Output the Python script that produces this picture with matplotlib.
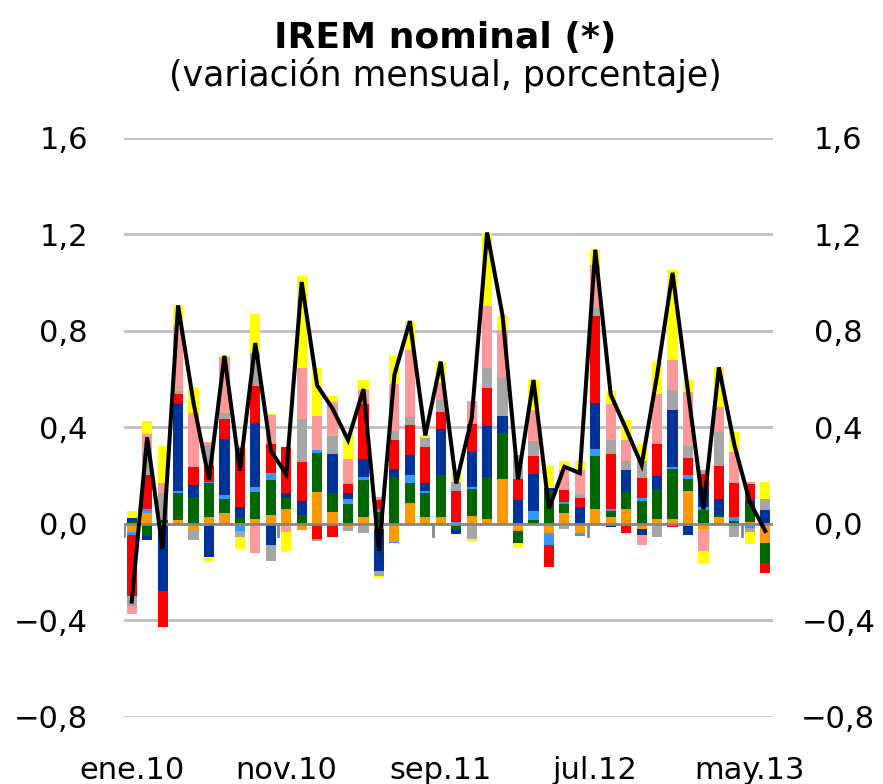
"""
IREM nominal: contribuciones mensuales apiladas y total
"""
import numpy as np
import matplotlib.pyplot as plt
import matplotlib

matplotlib.rcParams['font.family'] = ['DejaVu Sans']
matplotlib.rcParams['axes.unicode_minus'] = True

# meses: ene.10 .. jun.13
meses = ['ene', 'feb', 'mar', 'abr', 'may', 'jun', 'jul', 'ago', 'sep', 'oct', 'nov', 'dic']
periodos = [f'{meses[i % 12]}.{10 + i // 12}' for i in range(42)]
etiquetas_x = ['ene.10', 'nov.10', 'sep.11', 'jul.12', 'may.13']

# contribuciones por componente (puntos porcentuales)
naranja = [-0.035, 0.046, 0.000, 0.015, -0.024, 0.028, 0.044, -0.005, 0.019, 0.037,
           0.061, -0.025, 0.134, 0.051, -0.018, 0.028, -0.020, -0.073, 0.086, 0.028,
           0.028, 0.000, 0.035, 0.019, 0.185, -0.030, 0.000, -0.039, 0.044, -0.036,
           0.061, 0.028, 0.061, -0.022, 0.019, 0.019, 0.137, -0.022, 0.030, 0.000,
           0.007, -0.080]
verde = [0.010, -0.050, 0.018, 0.112, 0.112, 0.141, 0.058, 0.028, 0.115, 0.145,
         0.048, 0.037, 0.159, 0.076, 0.083, 0.155, 0.051, 0.194, 0.083, 0.100,
         0.174, -0.025, 0.109, 0.174, 0.191, -0.050, 0.017, 0.138, 0.039, 0.000,
         0.221, 0.024, 0.073, 0.097, 0.124, 0.207, 0.048, 0.058, 0.007, 0.012,
         0.076, -0.083]
azul_claro = [-0.010, 0.018, 0.000, 0.011, 0.000, 0.007, 0.018, -0.025, 0.018, 0.028,
              0.000, 0.000, 0.014, 0.000, 0.019, 0.011, 0.010, -0.007, 0.035, 0.010,
              0.000, 0.008, 0.008, 0.000, 0.000, 0.000, 0.035, -0.048, 0.010, -0.012,
              0.028, 0.010, 0.000, 0.010, 0.000, 0.011, 0.018, 0.014, 0.000, 0.018,
              -0.018, 0.000]
azul = [0.014, -0.017, -0.277, 0.361, 0.048, -0.136, 0.231, 0.041, 0.266, -0.087,
        0.018, 0.058, 0.000, 0.163, 0.025, 0.075, -0.173, 0.033, 0.082, 0.032,
        0.191, -0.018, 0.148, 0.213, 0.072, 0.100, 0.156, 0.010, 0.000, 0.069,
        0.191, -0.014, 0.090, -0.024, 0.055, 0.235, -0.046, 0.079, 0.065, -0.010,
        0.017, 0.058]
rojo = [-0.253, 0.137, -0.152, 0.041, 0.075, 0.065, 0.083, 0.245, 0.155, 0.122,
        0.190, 0.163, -0.062, -0.053, 0.039, 0.230, 0.039, 0.122, 0.123, 0.148,
        0.073, 0.127, 0.115, 0.156, 0.000, 0.085, 0.075, -0.090, 0.048, 0.040,
        0.362, 0.230, -0.039, 0.083, 0.133, -0.011, 0.072, 0.057, 0.140, 0.138,
        0.064, -0.041]
gris = [-0.041, 0.095, 0.110, 0.010, -0.041, 0.087, 0.025, -0.022, 0.136, -0.066,
        0.000, 0.176, -0.008, 0.075, -0.010, -0.039, -0.021, 0.035, 0.035, 0.039,
        0.048, 0.039, -0.064, 0.083, 0.156, 0.100, 0.059, 0.000, -0.022, 0.015,
        0.032, 0.058, 0.035, 0.073, -0.055, 0.083, 0.050, 0.017, 0.141, -0.044,
        -0.017, 0.044]
rosa = [-0.035, 0.079, 0.041, 0.266, 0.223, 0.010, 0.232, 0.010, -0.122, 0.118,
        -0.035, 0.214, 0.142, 0.142, 0.102, 0.058, 0.011, 0.198, 0.279, 0.000,
        0.069, 0.000, 0.093, 0.259, 0.200, 0.000, 0.131, 0.000, 0.083, 0.100,
        0.180, 0.149, 0.090, -0.041, 0.207, 0.124, 0.224, -0.089, 0.100, 0.131,
        0.010, 0.000]
amarillo = [0.028, 0.051, 0.156, 0.090, 0.109, -0.018, 0.006, -0.051, 0.163, 0.007,
            -0.076, 0.380, 0.196, 0.024, 0.108, 0.041, -0.008, 0.116, 0.118, 0.010,
            0.090, 0.037, -0.007, 0.304, 0.060, -0.020, 0.124, 0.093, 0.035, 0.035,
            0.062, 0.051, 0.083, 0.069, 0.134, 0.373, 0.048, -0.053, 0.166, 0.083,
            -0.048, 0.073]

componentes = [naranja, verde, azul_claro, azul, rojo, gris, rosa, amarillo]
colores = ['#FF9900', '#006600', '#3399FF', '#003399', '#FF0000', '#A6A6A6', '#FF9999', '#FFFF00']

datos = np.array(componentes)
total = datos.sum(axis=0)
x = np.arange(len(periodos))

fig = plt.figure(figsize=(8.83, 7.84), dpi=100)
ax = fig.add_axes([0.1404, 0.0855, 0.735, 0.7385])

# rejilla horizontal
for yv in [-0.8, -0.4, 0.4, 0.8, 1.2, 1.6]:
    ax.axhline(yv, color='#BFBFBF', lw=2, zorder=0)

# barras apiladas: positivos hacia arriba, negativos hacia abajo
pos_base = np.zeros(len(x))
neg_base = np.zeros(len(x))
for serie, color in zip(datos, colores):
    p = np.where(serie > 0, serie, 0)
    n = np.where(serie < 0, serie, 0)
    ax.bar(x, p, bottom=pos_base, width=0.66, color=color, zorder=2, linewidth=0)
    ax.bar(x, n, bottom=neg_base, width=0.66, color=color, zorder=2, linewidth=0)
    pos_base += p
    neg_base += n

# eje de categorías en cero
ax.axhline(0, color='#868686', lw=2, zorder=3)
for b in range(0, 50, 10):
    ax.plot([b - 0.5, b - 0.5], [0, -0.05], color='#868686', lw=2, zorder=3)

ax.plot(x, total, color='black', lw=2.9, zorder=4, solid_joinstyle='miter')

ax.set_xlim(-0.5, len(x) - 0.5)
ax.set_ylim(-0.8, 1.6)
ax.set_xticks([periodos.index(e) for e in etiquetas_x])
ax.set_xticklabels(etiquetas_x, fontsize=22)
ax.tick_params(axis='x', length=0, pad=28)

yticks = [-0.8, -0.4, 0.0, 0.4, 0.8, 1.2, 1.6]
ylabels = [f'{v:.1f}'.replace('.', ',').replace('-', '\u2212') for v in yticks]
ax.set_yticks(yticks)
ax.set_yticklabels(ylabels, fontsize=22)
ax.tick_params(axis='y', length=0, pad=26)

ax2 = ax.twinx()
ax2.set_ylim(-0.8, 1.6)
ax2.set_yticks(yticks)
ax2.set_yticklabels(ylabels, fontsize=22)
ax2.tick_params(axis='y', length=0, pad=47)
for t in ax2.get_yticklabels():
    t.set_horizontalalignment('center')

for a in (ax, ax2):
    for s in a.spines.values():
        s.set_visible(False)

fig.text(0.504, 0.952, 'IREM nominal (*)', ha='center', va='center',
         fontsize=26, fontweight='bold')
fig.text(0.504, 0.904, '(variación mensual, porcentaje)', ha='center', va='center',
         fontsize=25)

fig.savefig('out.png', dpi=100)
plt.close(fig)
